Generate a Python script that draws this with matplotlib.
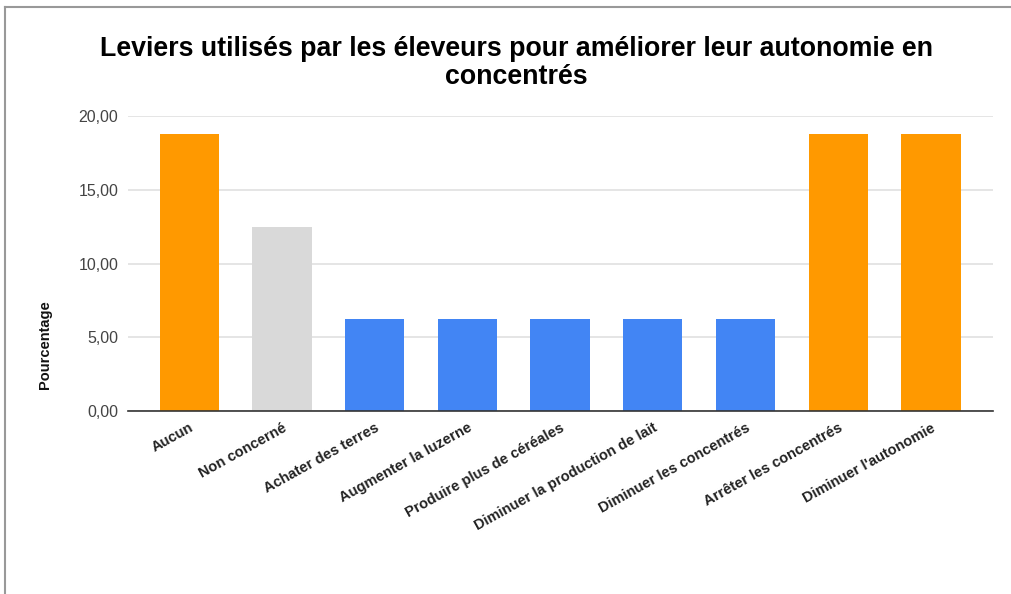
import numpy as np
import matplotlib.pyplot as plt
from matplotlib.lines import Line2D

# données
categories = ["Aucun", "Non concerné", "Achater des terres", "Augmenter la luzerne",
              "Produire plus de céréales", "Diminuer la production de lait",
              "Diminuer les concentrés", "Arrêter les concentrés", "Diminuer l'autonomie"]
values = [18.75, 12.5, 6.25, 6.25, 6.25, 6.25, 6.25, 18.75, 18.75]
colors = ["#FF9900", "#D9D9D9", "#4285F4", "#4285F4", "#4285F4", "#4285F4",
          "#4285F4", "#FF9900", "#FF9900"]
yticks = [0, 5, 10, 15, 20]

plt.rcParams['font.family'] = ['Liberation Sans', 'DejaVu Sans']

fig = plt.figure(figsize=(10.12, 5.94), dpi=100)
ax = fig.add_axes([128/1012, 1 - 411/594, (993 - 128)/1012, (411 - 116)/594])

x = np.arange(len(categories))
ax.bar(x, values, width=0.64, color=colors, zorder=3)

ax.set_xlim(-0.66, 8.67)
ax.set_ylim(0, 20)
ax.set_yticks(yticks)
ax.set_yticklabels([f"{v:.2f}".replace(".", ",") for v in yticks], color="#444444", fontsize=11.5)
ax.set_xticks(x)
ax.set_xticklabels(categories, rotation=29, ha="right", rotation_mode="anchor",
                   fontsize=10.5, color="#222222", fontweight="bold")
ax.tick_params(axis="both", length=0)
ax.tick_params(axis="y", pad=7)
ax.tick_params(axis="x", pad=7)

ax.grid(axis="y", color="#E0E0E0", linewidth=1.2, zorder=0)
for s in ["top", "right", "left"]:
    ax.spines[s].set_visible(False)
ax.spines["bottom"].set_color("#333333")
ax.spines["bottom"].set_linewidth(1.2)
ax.spines["bottom"].set_zorder(4)

ax.set_ylabel("Pourcentage", fontsize=10.5, fontweight="bold", color="#111111")
ax.yaxis.set_label_coords(-0.088, 0.224)

fig.text(516/1012, 1 - 63/594, "Leviers utilisés par les éleveurs pour améliorer leur autonomie en\nconcentrés",
         ha="center", va="center", fontsize=19.3, fontweight="bold", linespacing=1.08)

# cadre gris
fig.add_artist(Line2D([5/1012, 5/1012], [0, 1 - 7/594], color="#999999", linewidth=1.5,
                      transform=fig.transFigure))
fig.add_artist(Line2D([5/1012, 1], [1 - 7/594, 1 - 7/594], color="#999999", linewidth=1.5,
                      transform=fig.transFigure))

fig.savefig("out.png", dpi=100)
